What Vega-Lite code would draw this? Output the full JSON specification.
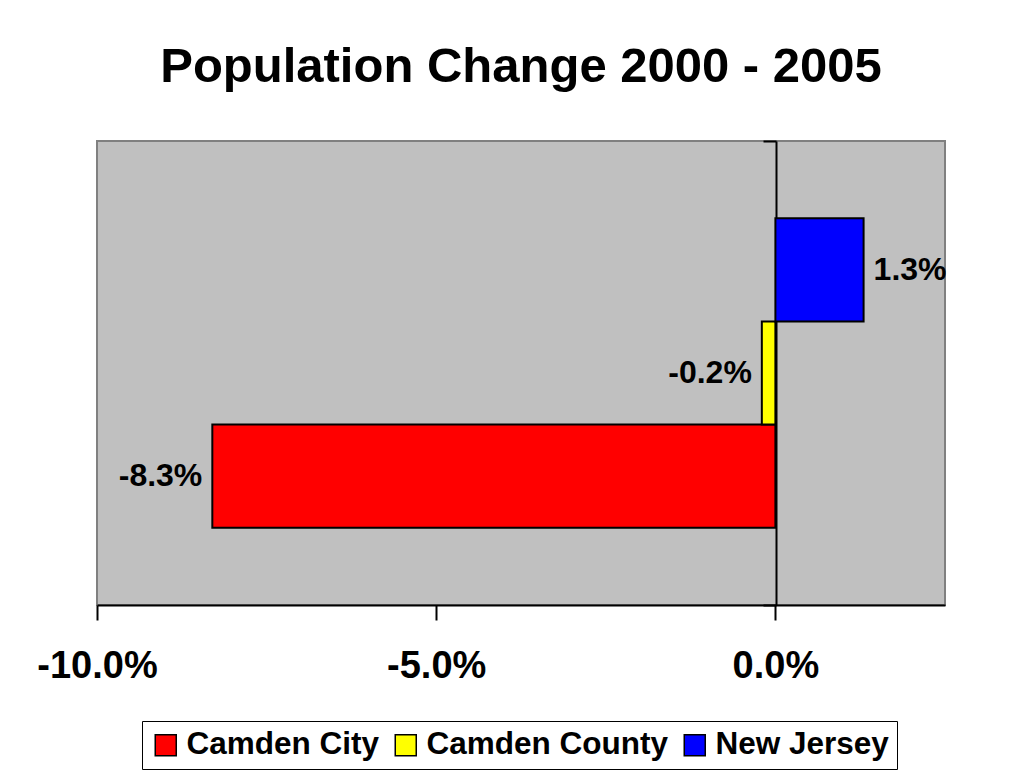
{
  "$schema": "https://vega.github.io/schema/vega-lite/v6.json",
  "width": 848,
  "height": 464,
  "autosize": {"type": "none"},
  "padding": {"left": 97, "top": 141, "right": 80, "bottom": 172},
  "background": "white",
  "title": {
    "text": "Population Change 2000 - 2005",
    "fontSize": 49,
    "font": "Liberation Sans",
    "fontWeight": "bold",
    "color": "black",
    "anchor": "middle",
    "offset": 48
  },
  "data": {
    "values": [
      {"cat": "Population", "region": "Camden City", "change": -0.083},
      {"cat": "Population", "region": "Camden County", "change": -0.002},
      {"cat": "Population", "region": "New Jersey", "change": 0.013}
    ]
  },
  "encoding": {
    "y": {
      "field": "cat",
      "type": "nominal",
      "scale": {"paddingInner": 0, "paddingOuter": 0},
      "axis": {
        "orient": "left",
        "offset": -679,
        "labels": false,
        "title": null,
        "domainColor": "black",
        "domainWidth": 2,
        "tickColor": "black",
        "tickWidth": 2,
        "tickSize": 13,
        "tickBand": "extent",
        "grid": false
      }
    },
    "yOffset": {
      "field": "region",
      "type": "nominal",
      "sort": ["New Jersey", "Camden County", "Camden City"],
      "scale": {"paddingInner": 0, "paddingOuter": 0.75}
    },
    "x": {
      "field": "change",
      "type": "quantitative",
      "scale": {"domain": [-0.1, 0.025], "nice": false, "zero": false},
      "axis": {
        "values": [-0.1, -0.05, 0],
        "format": ".1%",
        "title": null,
        "grid": false,
        "domainColor": "black",
        "domainWidth": 2,
        "tickColor": "black",
        "tickWidth": 2,
        "tickSize": 15,
        "labelFontSize": 38,
        "labelFont": "Liberation Sans",
        "labelFontWeight": "bold",
        "labelColor": "black",
        "labelPadding": 27,
        "labelFlush": false
      }
    }
  },
  "layer": [
    {
      "mark": {"type": "bar", "stroke": "black", "strokeWidth": 2},
      "encoding": {
        "color": {
          "field": "region",
          "type": "nominal",
          "scale": {
            "domain": ["Camden City", "Camden County", "New Jersey"],
            "range": ["#FF0000", "#FFFF00", "#0000FF"]
          },
          "legend": {
            "orient": "none",
            "legendX": 45,
            "legendY": 580,
            "direction": "horizontal",
            "title": null,
            "labelFontSize": 31.5,
            "labelFont": "Liberation Sans",
            "labelFontWeight": "bold",
            "labelColor": "black",
            "labelLimit": 400,
            "labelOffset": 5,
            "symbolType": "square",
            "symbolSize": 441,
            "symbolStrokeColor": "black",
            "symbolStrokeWidth": 1.5,
            "symbolOpacity": 1,
            "strokeColor": "black",
            "fillColor": "white",
            "padding": 8,
            "columnPadding": 10
          }
        }
      }
    },
    {
      "transform": [{"filter": "datum.change > 0"}],
      "mark": {
        "type": "text",
        "align": "left",
        "baseline": "middle",
        "dx": 10,
        "fontSize": 32,
        "font": "Liberation Sans",
        "fontWeight": "bold",
        "color": "black"
      },
      "encoding": {"text": {"field": "change", "format": ".1%"}}
    },
    {
      "transform": [{"filter": "datum.change < 0"}],
      "mark": {
        "type": "text",
        "align": "right",
        "baseline": "middle",
        "dx": -10,
        "fontSize": 32,
        "font": "Liberation Sans",
        "fontWeight": "bold",
        "color": "black"
      },
      "encoding": {"text": {"field": "change", "format": ".1%"}}
    }
  ],
  "config": {
    "locale": {
      "number": {
        "decimal": ".",
        "thousands": ",",
        "grouping": [3],
        "currency": ["$", ""],
        "minus": "-"
      }
    },
    "view": {"fill": "#C0C0C0", "stroke": "#808080", "strokeWidth": 2}
  }
}
